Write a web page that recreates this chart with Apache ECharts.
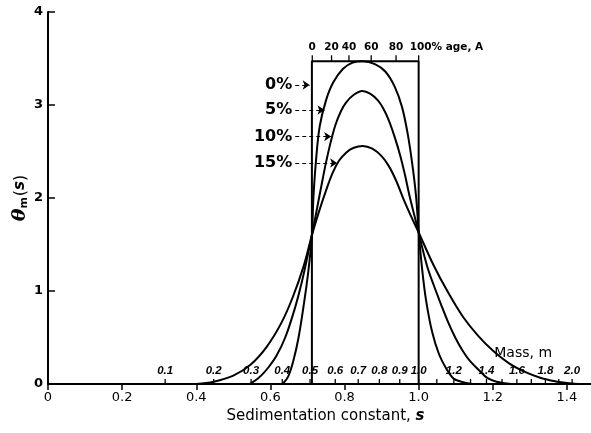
<!DOCTYPE html>
<html>
<head>
<meta charset="utf-8">
<script src="https://cdn.jsdelivr.net/npm/echarts@6/dist/echarts.min.js"></script>
<style>html,body{margin:0;padding:0;background:#fff}#c{width:591px;height:433px}</style>
</head>
<body>
<div id="c"></div>
<script>
// ---- data ----
const xTicks = [0, 0.2, 0.4, 0.6, 0.8, 1.0, 1.2, 1.4];
const yTicks = [0, 1, 2, 3, 4];

// 0% : rectangular distribution
const rectS = [0.712, 1.0];
const rectHeight = 3.47;

// 5 %, 10 %, 15 % curves: [s, theta]
const curve5 = [[0.633,0],[0.648,0.08],[0.662,0.25],[0.676,0.5],[0.690,0.85],[0.702,1.2],[0.712,1.6],[0.716,2.0],[0.723,2.4],[0.733,2.77],[0.75,3.05],[0.769,3.24],[0.796,3.39],[0.822,3.455],[0.849,3.47],[0.882,3.44],[0.91,3.36],[0.935,3.2],[0.955,2.98],[0.97,2.7],[0.983,2.36],[0.993,2.02],[1.0,1.64],[1.009,1.25],[1.02,0.9],[1.037,0.55],[1.055,0.32],[1.074,0.17],[1.094,0.06],[1.115,0.025],[1.145,0]];
const curve10 = [[0.544,0],[0.56,0.04],[0.575,0.09],[0.595,0.18],[0.616,0.3],[0.64,0.5],[0.665,0.8],[0.685,1.1],[0.70,1.37],[0.712,1.6],[0.725,1.87],[0.738,2.14],[0.75,2.38],[0.762,2.59],[0.775,2.78],[0.79,2.93],[0.805,3.03],[0.825,3.11],[0.848,3.15],[0.87,3.12],[0.89,3.05],[0.905,2.96],[0.92,2.83],[0.935,2.66],[0.95,2.46],[0.963,2.25],[0.975,2.03],[0.988,1.82],[1.0,1.63],[1.012,1.43],[1.025,1.24],[1.04,1.07],[1.06,0.86],[1.08,0.66],[1.1,0.49],[1.12,0.35],[1.14,0.24],[1.165,0.14],[1.185,0.065],[1.21,0.025],[1.25,0]];
const curve15 = [[0.40,0],[0.447,0.025],[0.50,0.09],[0.547,0.21],[0.59,0.40],[0.63,0.66],[0.66,0.93],[0.69,1.27],[0.712,1.6],[0.73,1.84],[0.75,2.08],[0.768,2.27],[0.785,2.40],[0.805,2.49],[0.825,2.54],[0.849,2.56],[0.875,2.53],[0.90,2.45],[0.92,2.34],[0.94,2.18],[0.96,1.98],[0.98,1.8],[1.0,1.63],[1.04,1.28],[1.08,0.98],[1.12,0.72],[1.16,0.52],[1.2,0.36],[1.245,0.22],[1.29,0.125],[1.33,0.065],[1.37,0.028],[1.40,0.01],[1.43,0]];

// arrow annotations: label, theta level, s where arrow starts, s where arrow ends
const arrowLabels = ['0%', '5%', '10%', '15%'];
const arrowTheta = [3.215, 2.946, 2.66, 2.376];
const arrowFromS = [0.667, 0.667, 0.667, 0.667];
const arrowToS = [0.706, 0.746, 0.764, 0.78];

// mass scale along the s axis
const massS = [0.316,0.447,0.548,0.632,0.707,0.775,0.837,0.894,0.949,1.0,1.049,1.095,1.14,1.183,1.225,1.265,1.304,1.342,1.378,1.414];
const massLabels = ['0.1','0.2','0.3','0.4','0.5','0.6','0.7','0.8','0.9','1.0','','1.2','','1.4','','1.6','','1.8','','2.0'];
const massTitle = 'Mass, m';
const massTitlePos = [1.282, 0.333];

// percentage-age scale on top of the rectangle
const ageS = [0.713, 0.765, 0.812, 0.872, 0.939, 1.0];
const ageLabels = ['0', '20', '40', '60', '80', '100% age, A'];

const FONT = 'DejaVu Sans';
const chart = echarts.init(document.getElementById('c'), null, {renderer: 'canvas'});

function arrowSeriesMarkLine(i) {
  return {
    silent: true,
    symbol: ['none', 'arrow'],
    symbolSize: 7,
    lineStyle: {color: '#000', type: [4, 3], width: 1.2},
    label: {show: true, position: 'start', formatter: arrowLabels[i], color: '#000',
      fontSize: 16, fontWeight: 'bold', fontFamily: FONT, distance: 3},
    data: [[{coord: [arrowFromS[i], arrowTheta[i]]}, {coord: [arrowToS[i], arrowTheta[i]]}]]
  };
}

const curveStyle = {type: 'line', symbol: 'none', smooth: 0.35, lineStyle: {color: '#000', width: 2}, z: 3};

const option = {
  animation: false,
  backgroundColor: '#fff',
  textStyle: {fontFamily: FONT},
  grid: {left: 48, right: 0, top: 12, bottom: 49, containLabel: false, outerBoundsMode: 'none'},
  xAxis: {
    type: 'value', min: 0, max: 1.465,
    axisLine: {lineStyle: {color: '#000', width: 2}},
    axisTick: {customValues: xTicks, length: 6, lineStyle: {color: '#000', width: 1.5}},
    axisLabel: {customValues: xTicks, color: '#000', fontSize: 13, fontFamily: FONT, margin: 7,
      formatter: v => v === 0 ? '0' : v.toFixed(1)},
    splitLine: {show: false},
    name: 'Sedimentation constant, {i|s}',
    nameLocation: 'middle', nameGap: 25, nameMoveOverlap: false,
    nameTextStyle: {color: '#000', fontSize: 15, fontFamily: FONT, padding: [0, 0, 0, 12],
      rich: {i: {fontSize: 15, fontStyle: 'italic', fontWeight: 'bold', fontFamily: FONT}}}
  },
  yAxis: {
    type: 'value', min: 0, max: 4, interval: 1,
    axisLine: {lineStyle: {color: '#000', width: 2}},
    axisTick: {inside: true, length: 7, lineStyle: {color: '#000', width: 1.5}},
    axisLabel: {color: '#000', fontSize: 13, fontWeight: 'bold', fontFamily: FONT, margin: 5},
    splitLine: {show: false},
    name: '{t|θ}{m|m}{p|(}{i|s}{p|)}',
    nameLocation: 'middle', nameGap: 18, nameRotate: 90, nameMoveOverlap: false,
    nameTextStyle: {color: '#000', padding: [0, 0, 0, 0], rich: {
      t: {fontSize: 19, fontStyle: 'italic', fontWeight: 'bold', fontFamily: 'DejaVu Serif', color: '#000'},
      m: {fontSize: 11, fontWeight: 'bold', fontFamily: FONT, color: '#000', padding: [8, 1, 0, 0]},
      p: {fontSize: 16, fontFamily: FONT, color: '#000'},
      i: {fontSize: 15, fontStyle: 'italic', fontWeight: 'bold', fontFamily: FONT, color: '#000'}
    }}
  },
  series: [
    {
      name: '0%', type: 'line', symbol: 'none', z: 3,
      lineStyle: {color: '#000', width: 2},
      data: [[rectS[0], 0], [rectS[0], rectHeight], [rectS[1], rectHeight], [rectS[1], 0]],
      markLine: arrowSeriesMarkLine(0)
    },
    Object.assign({name: '5%', data: curve5, markLine: arrowSeriesMarkLine(1)}, curveStyle),
    Object.assign({name: '10%', data: curve10, markLine: arrowSeriesMarkLine(2)}, curveStyle),
    Object.assign({name: '15%', data: curve15, markLine: arrowSeriesMarkLine(3)}, curveStyle),
    {
      name: 'mass', type: 'custom', z: 4, silent: true,
      data: massS.map(s => [s, 0]),
      renderItem: (params, api) => {
        const p = api.coord([api.value(0), 0]);
        const children = [{type: 'line', shape: {x1: p[0], y1: p[1], x2: p[0], y2: p[1] - 5},
          style: {stroke: '#000', lineWidth: 1.3}}];
        const lbl = massLabels[params.dataIndex];
        if (lbl) children.push({type: 'text', x: p[0], y: p[1] - 7,
          style: {text: lbl, align: 'center', verticalAlign: 'bottom', fill: '#000',
            font: 'italic bold 11.5px "Liberation Sans"'}});
        return {type: 'group', children};
      }
    },
    {
      name: 'massTitle', type: 'custom', z: 4, silent: true,
      data: [massTitlePos],
      renderItem: (params, api) => {
        const p = api.coord([api.value(0), api.value(1)]);
        return {type: 'text', x: p[0], y: p[1],
          style: {text: massTitle, align: 'center', verticalAlign: 'middle', fill: '#000',
            font: '14px "DejaVu Sans"'}};
      }
    },
    {
      name: 'age', type: 'custom', z: 4, silent: true,
      data: ageS.map(s => [s, rectHeight]),
      renderItem: (params, api) => {
        const p = api.coord([api.value(0), api.value(1)]);
        const last = params.dataIndex === ageS.length - 1;
        return {type: 'group', children: [
          {type: 'line', shape: {x1: p[0], y1: p[1], x2: p[0], y2: p[1] - 6},
            style: {stroke: '#000', lineWidth: 1.3}},
          {type: 'text', x: last ? p[0] - 9 : p[0], y: p[1] - 9,
            style: {text: ageLabels[params.dataIndex], align: last ? 'left' : 'center',
              verticalAlign: 'bottom', fill: '#000', font: 'bold 10.5px "DejaVu Sans"'}}
        ]};
      }
    }
  ]
};
chart.setOption(option);
</script>
</body>
</html>
